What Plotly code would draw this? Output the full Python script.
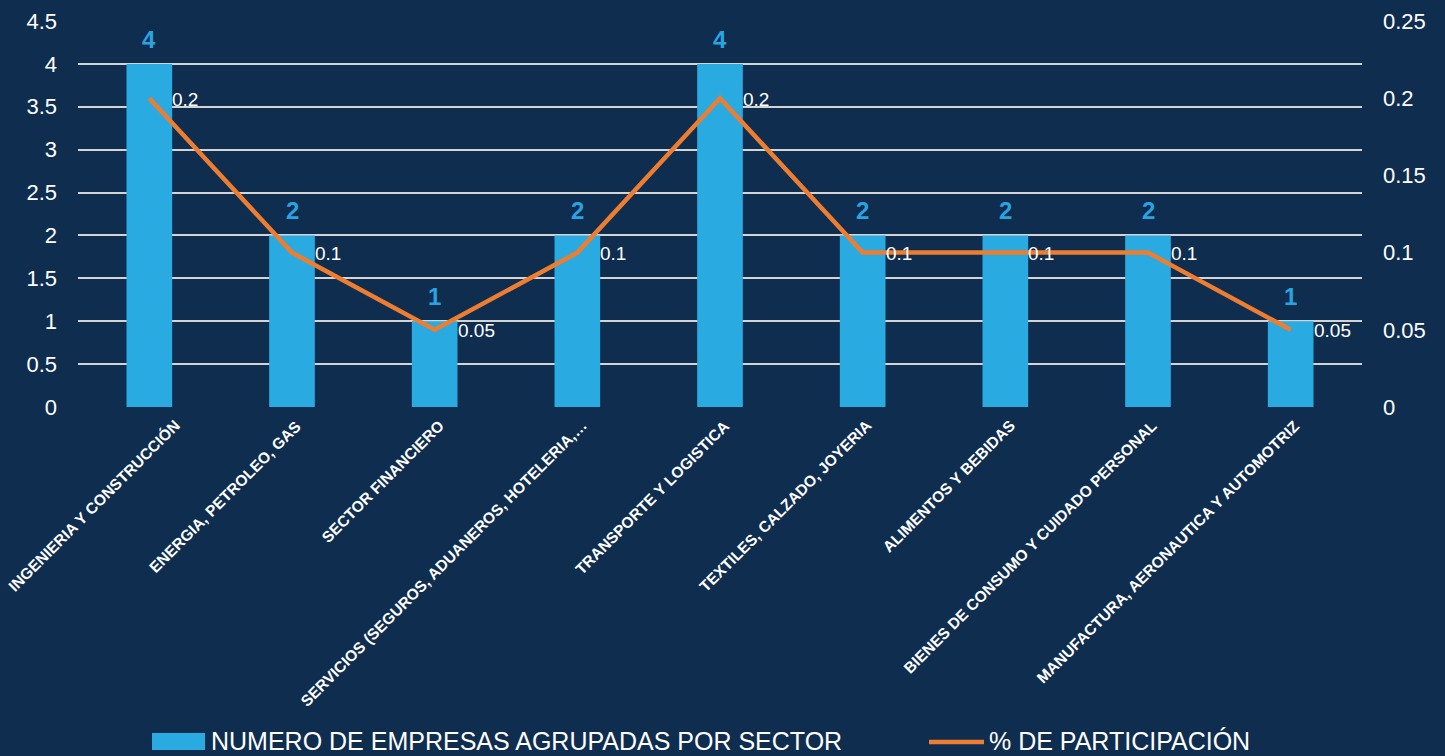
import plotly.graph_objects as go

categories = [
    "INGENIERIA Y CONSTRUCCIÓN",
    "ENERGIA, PETROLEO, GAS",
    "SECTOR FINANCIERO",
    "SERVICIOS (SEGUROS, ADUANEROS, HOTELERIA,…",
    "TRANSPORTE Y LOGISTICA",
    "TEXTILES, CALZADO, JOYERIA",
    "ALIMENTOS Y BEBIDAS",
    "BIENES DE CONSUMO Y CUIDADO PERSONAL",
    "MANUFACTURA, AERONAUTICA Y AUTOMOTRIZ",
]
empresas = [4, 2, 1, 2, 4, 2, 2, 2, 1]
participacion = [0.2, 0.1, 0.05, 0.1, 0.2, 0.1, 0.1, 0.1, 0.05]
left_ticks = [0, 0.5, 1, 1.5, 2, 2.5, 3, 3.5, 4, 4.5]
right_ticks = [0, 0.05, 0.1, 0.15, 0.2, 0.25]
series_names = ["NUMERO DE EMPRESAS AGRUPADAS POR SECTOR", "% DE PARTICIPACIÓN"]

BG = "#0f2d4f"
BLUE = "#29abe2"
LABEL_BLUE = "#2aa3e0"
ORANGE = "#ed7d31"
GRID = "#d4d4d4"
FONT = "Liberation Sans, Arial, sans-serif"

fig = go.Figure()
fig.add_trace(go.Bar(
    x=categories, y=empresas, name=series_names[0],
    marker=dict(color=BLUE, line=dict(width=0)), width=0.32,
    showlegend=False,
))
fig.add_trace(go.Scatter(
    x=categories, y=participacion, name=series_names[1], yaxis="y2",
    mode="lines", line=dict(color=ORANGE, width=4.5), showlegend=False,
))

# category labels (rotated), first one nudged right so it stays on the page
for i, c in enumerate(categories):
    fig.add_annotation(x=c, y=0, xref="x", yref="y", text=f"<b>{c}</b>", textangle=-45,
                       showarrow=False, xanchor="right", yanchor="top",
                       xshift=37 if i == 0 else 15, yshift=-7,
                       font=dict(color="white", size=15.5, family=FONT))

# bar value labels
for c, v in zip(categories, empresas):
    fig.add_annotation(x=c, y=v, xref="x", yref="y", text=f"<b>{v}</b>",
                       showarrow=False, xanchor="center", yanchor="bottom",
                       yshift=9, font=dict(color=LABEL_BLUE, size=24, family=FONT))
# line value labels
for c, p in zip(categories, participacion):
    fig.add_annotation(x=c, y=p, xref="x", yref="y2", text=f"{p:g}",
                       showarrow=False, xanchor="left", yanchor="middle",
                       xshift=21, yshift=-1, font=dict(color="white", size=19, family=FONT))

# legend drawn in the bottom margin
fig.add_shape(type="rect", xref="paper", yref="paper",
              x0=(152 - 78) / 1284, x1=(205 - 78) / 1284,
              y0=-(733 - 407) / 386, y1=-(750 - 407) / 386,
              fillcolor=BLUE, line=dict(width=0), layer="above")
fig.add_annotation(xref="paper", yref="paper", x=(209 - 78) / 1284, y=-(741 - 407) / 386,
                   text=series_names[0], showarrow=False, xanchor="left", yanchor="middle",
                   font=dict(color="white", size=25, family=FONT))
fig.add_shape(type="line", xref="paper", yref="paper",
              x0=(929 - 78) / 1284, x1=(984 - 78) / 1284,
              y0=-(742 - 407) / 386, y1=-(742 - 407) / 386,
              line=dict(color=ORANGE, width=4.5), layer="above")
fig.add_annotation(xref="paper", yref="paper", x=(987 - 78) / 1284, y=-(741 - 407) / 386,
                   text=series_names[1], showarrow=False, xanchor="left", yanchor="middle",
                   font=dict(color="white", size=25, family=FONT))

fig.update_layout(
    width=1445, height=756,
    paper_bgcolor=BG, plot_bgcolor=BG,
    margin=dict(l=78, r=83, t=21, b=349, autoexpand=False),
    font=dict(family=FONT, color="white"),
    showlegend=False,
    xaxis=dict(range=[-0.5, len(categories) - 0.5], showticklabels=False, showgrid=False,
               showline=False, ticks="", zeroline=False, automargin=False),
    yaxis=dict(range=[0, 4.5], tickvals=left_ticks, ticktext=[f"{v:g}" for v in left_ticks],
               showgrid=True, gridcolor=GRID, gridwidth=2, zeroline=False, automargin=False,
               tickfont=dict(size=22, color="white"), ticklabelstandoff=20, showline=False),
    yaxis2=dict(range=[0, 0.25], tickvals=right_ticks, ticktext=[f"{v:g}" for v in right_ticks],
                overlaying="y", side="right", showgrid=False, zeroline=False, automargin=False,
                tickfont=dict(size=22, color="white"), ticklabelstandoff=20),
)

fig.write_html("out.html", config={"displayModeBar": False},
               post_script="document.body.style.margin='0';document.body.style.background='#0f2d4f';")
